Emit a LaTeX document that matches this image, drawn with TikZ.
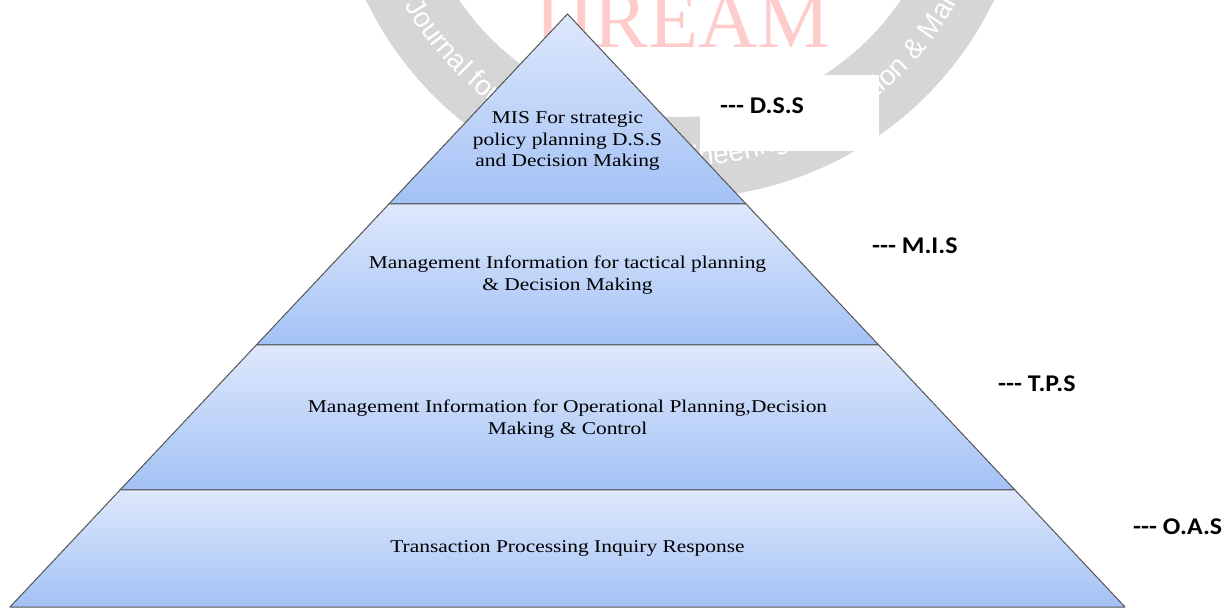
\documentclass[tikz,border=0pt]{standalone}
\usepackage{fontspec}
\setmainfont{Liberation Serif}
\newfontfamily\layerfont[FakeStretch=1.19]{Liberation Serif}
\newfontfamily\labelfont[FakeStretch=1.08]{Carlito}
\newfontfamily\markfont{Liberation Sans}
\usetikzlibrary{decorations.text}

\definecolor{layertop}{RGB}{222,232,252}
\definecolor{layerbot}{RGB}{163,193,245}
\definecolor{ringgray}{RGB}{214,214,214}
\definecolor{markred}{RGB}{255,204,204}
\definecolor{edgegray}{RGB}{85,85,85}

\begin{document}
\begin{tikzpicture}[x=1pt,y=1pt,
  layer/.style={top color=layertop,bottom color=layerbot,draw=edgegray,line width=1pt,line join=round},
  layertext/.style={align=center,font=\layerfont\fontsize{18}{21.5}\selectfont,text=black,inner sep=0pt},
  tag/.style={anchor=west,font=\labelfont\bfseries\fontsize{24}{28}\selectfont,inner sep=0pt}]
\useasboundingbox (0,0) rectangle (1229,608);
\clip (0,0) rectangle (1229,608);

% background seal: grey ring, lettering along it, red initials
\fill[ringgray,even odd rule] (680,758) circle (348) (680,758) circle (267);
\node[anchor=base west,inner sep=0pt,text=markred,font=\fontsize{82}{82}\selectfont] (mark) at (534,560) {IJREAM};
\path[decorate,decoration={text along path,text color=white,
  text={|\markfont\fontsize{28}{28}\selectfont|International Journal for Research in Engineering Application {\&} Management}}]
  (680,758) ++(180:316) arc (180:440:316);

% pyramid corners
\coordinate (apex) at (567.5,594);
\coordinate (l1) at (388.9,404);  \coordinate (r1) at (746.1,404);
\coordinate (l2) at (256.3,263);  \coordinate (r2) at (878.7,263);
\coordinate (l3) at (120.0,118);  \coordinate (r3) at (1015.0,118);
\coordinate (l4) at (10.0,1);     \coordinate (r4) at (1125.0,1);

% pyramid layers
\path[layer] (apex) -- (r1) -- (l1) -- cycle;
\path[layer] (l1) -- (r1) -- (r2) -- (l2) -- cycle;
\path[layer] (l2) -- (r2) -- (r3) -- (l3) -- cycle;
\path[layer] (l3) -- (r3) -- (r4) -- (l4) -- cycle;

% layer captions
\node[layertext] (t1) at (567.5,467) {MIS For strategic\\policy planning D.S.S\\and Decision Making};
\node[layertext] (t2) at (567.5,333) {Management Information for tactical planning\\\& Decision Making};
\node[layertext] (t3) at (567.5,189) {Management Information for Operational Planning,Decision\\Making \& Control};
\node[layertext] (t4) at (567.5,60) {Transaction Processing Inquiry Response};

% level tags
\node[fill=white,inner sep=0pt,minimum width=179pt,minimum height=76pt,anchor=north west] (dssbox) at (700,533) {};
\node[tag] (dss) at (720,502) {-{}-{}- D.S.S};
\node[tag] (mis) at (872,362) {-{}-{}- M.I.S};
\node[tag] (tps) at (998,224) {-{}-{}- T.P.S};
\node[tag] (oas) at (1133,81) {-{}-{}- O.A.S};
\end{tikzpicture}
\end{document}
